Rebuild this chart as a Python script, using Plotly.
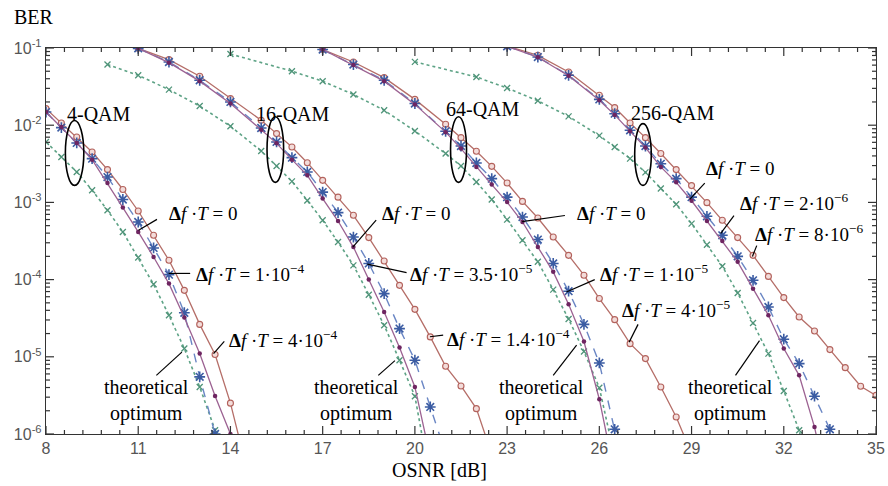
import plotly.graph_objects as go

# ---------------- measured BER curves ----------------
# 4-QAM
osnr_4 = [8.0, 8.5, 9.0, 9.5, 10.0, 10.5, 11.0, 11.5, 12.0, 12.5, 13.0, 13.5, 14.0, 14.5]
ber_4_big = [1.64e-2, 1.07e-2, 7.03e-3, 4.50e-3, 2.66e-3, 1.47e-3, 7.74e-4, 3.75e-4, 1.78e-4,
             7.26e-5, 2.63e-5, 1.07e-5, 2.51e-6, 4.0e-7]
ber_4_zero = [1.48e-2, 9.48e-3, 5.89e-3, 3.58e-3, 1.78e-3, 8.57e-4, 4.14e-4, 1.96e-4, 8.87e-5,
              3.22e-5, 1.10e-5, 3.10e-6, 1.0e-6, 2.0e-7]
osnr_4_mid = [8.0, 8.5, 9.0, 9.5, 10.0, 10.5, 11.0, 11.5, 12.0, 12.5, 13.0, 13.5, 14.0]
ber_4_mid = [1.48e-2, 9.31e-3, 5.89e-3, 3.69e-3, 2.13e-3, 1.09e-3, 5.57e-4, 2.57e-4, 1.16e-4,
             3.72e-5, 5.50e-6, 1.0e-6, 1.5e-7]
osnr_4_th = [8.0, 8.5, 9.0, 9.5, 10.0, 10.5, 11.0, 11.5, 12.0, 12.5, 13.0, 13.5, 14.0]
ber_4_th = [6.07e-3, 3.87e-3, 2.48e-3, 1.44e-3, 7.91e-4, 4.14e-4, 1.93e-4, 8.69e-5, 3.45e-5,
            1.28e-5, 4.07e-6, 1.12e-6, 1.5e-7]

# 16-QAM
osnr_16_big = [11, 12, 13, 14, 15, 15.5, 16, 16.5, 17, 17.5, 18, 18.5, 19, 19.5, 20, 20.5,
               21, 21.5, 22, 22.5]
ber_16_big = [9.9e-2, 7.06e-2, 4.30e-2, 2.21e-2, 1.16e-2, 7.78e-3, 5.22e-3, 3.27e-3, 1.93e-3,
              1.17e-3, 6.81e-4, 3.50e-4, 1.74e-4, 8.43e-5, 4.12e-5, 1.81e-5, 7.53e-6,
              4.19e-6, 2.13e-6, 5.5e-7]
osnr_16_mid = [11, 12, 13, 14, 15, 15.5, 16, 16.5, 17, 17.5, 18, 18.5, 19, 19.5, 20, 20.5, 21]
ber_16_mid = [9.9e-2, 6.59e-2, 3.82e-2, 2.0e-2, 9.20e-3, 6.07e-3, 3.80e-3, 2.48e-3, 1.36e-3,
              7.38e-4, 3.56e-4, 1.62e-4, 6.59e-5, 2.32e-5, 9.04e-6, 2.24e-6, 5.6e-7]
osnr_16_zero = [11, 12, 13, 14, 15, 15.5, 16, 16.5, 17, 17.5, 18, 18.5, 19, 19.5, 20, 20.5]
ber_16_zero = [9.9e-2, 6.46e-2, 3.72e-2, 1.91e-2, 8.71e-3, 5.82e-3, 3.58e-3, 2.24e-3, 1.12e-3,
               5.74e-4, 2.64e-4, 1.0e-4, 3.80e-5, 1.32e-5, 4.07e-6, 5.0e-7]
osnr_16_th = [10, 11, 12, 13, 14, 15, 15.5, 16, 16.5, 17, 17.5, 18, 18.5, 19, 19.5, 20, 20.5]
ber_16_th = [6.10e-2, 4.43e-2, 2.89e-2, 1.77e-2, 9.68e-3, 4.63e-3, 2.96e-3, 1.87e-3, 1.06e-3,
             5.86e-4, 3.07e-4, 1.53e-4, 6.38e-5, 2.56e-5, 9.02e-6, 3.09e-6, 2.5e-7]

# 64-QAM
osnr_64_big = [17, 18, 19, 20, 21, 21.5, 22, 22.5, 23, 23.5, 24, 24.5, 25, 25.5, 26, 26.5,
               27, 27.5, 28, 28.5, 29]
ber_64_big = [9.55e-2, 6.59e-2, 4.13e-2, 2.16e-2, 1.03e-2, 6.90e-3, 4.59e-3, 2.93e-3, 1.78e-3,
              1.03e-3, 6.28e-4, 3.56e-4, 2.06e-4, 1.14e-4, 5.68e-5, 3.03e-5, 1.48e-5,
              9.48e-6, 4.07e-6, 1.66e-6, 5.6e-7]
osnr_64_mid = [17, 18, 19, 20, 21, 21.5, 22, 22.5, 23, 23.5, 24, 24.5, 25, 25.5, 26, 26.5, 27]
ber_64_mid = [9.55e-2, 6.10e-2, 3.82e-2, 1.91e-2, 8.34e-3, 5.38e-3, 3.24e-3, 2.03e-3, 1.17e-3,
              6.46e-4, 3.30e-4, 1.62e-4, 7.08e-5, 2.63e-5, 8.32e-6, 1.15e-6, 1.5e-7]
osnr_64_zero = [17, 18, 19, 20, 21, 21.5, 22, 22.5, 23, 23.5, 24, 24.5, 25, 25.5, 26, 26.5]
ber_64_zero = [9.55e-2, 6.03e-2, 3.72e-2, 1.86e-2, 8.13e-3, 4.98e-3, 2.88e-3, 1.70e-3, 1.01e-3,
               5.57e-4, 2.64e-4, 1.26e-4, 4.79e-5, 1.58e-5, 2.82e-6, 3.0e-7]
osnr_64_th = [14, 16, 17, 18, 19, 20, 21, 21.5, 22, 22.5, 23, 23.5, 24, 24.5, 25, 25.5, 26, 26.5]
ber_64_th = [8.36e-2, 5.01e-2, 3.71e-2, 2.50e-2, 1.56e-2, 8.41e-3, 4.29e-3, 2.96e-3, 1.84e-3,
             1.09e-3, 5.98e-4, 3.24e-4, 1.70e-4, 7.41e-5, 3.09e-5, 1.17e-5, 3.98e-6, 5.0e-7]

# 256-QAM
osnr_256_big = [23, 24, 25, 26, 26.5, 27, 27.5, 28, 28.5, 29, 29.5, 30, 30.5, 31, 31.5, 32,
                32.5, 33, 33.5, 34, 34.5, 35]
ber_256_big = [1.06e-1, 8.04e-2, 4.89e-2, 2.44e-2, 1.69e-2, 1.07e-2, 6.90e-3, 4.29e-3, 2.66e-3,
               1.65e-3, 9.93e-4, 5.86e-4, 3.50e-4, 2.06e-4, 1.10e-4, 5.85e-5, 3.28e-5,
               2.16e-5, 1.24e-5, 7.24e-6, 4.15e-6, 3.16e-6]
osnr_256_mid = [23, 24, 25, 26, 26.5, 27, 27.5, 28, 28.5, 29, 29.5, 30, 30.5, 31, 31.5, 32,
                32.5, 33, 33.5, 34]
ber_256_mid = [1.05e-1, 7.64e-2, 4.43e-2, 2.16e-2, 1.41e-2, 8.59e-3, 5.37e-3, 3.16e-3, 2.03e-3,
               1.17e-3, 6.61e-4, 3.75e-4, 2.0e-4, 9.79e-5, 4.42e-5, 1.69e-5, 8.17e-6,
               3.09e-6, 1.15e-6, 1.5e-7]
osnr_256_zero = [23, 24, 25, 26, 26.5, 27, 27.5, 28, 28.5, 29, 29.5, 30, 30.5, 31, 31.5, 32,
                 32.5, 33, 33.5]
ber_256_zero = [1.05e-1, 7.59e-2, 4.37e-2, 2.11e-2, 1.36e-2, 8.32e-3, 5.13e-3, 2.88e-3, 1.82e-3,
                1.05e-3, 5.75e-4, 3.16e-4, 1.70e-4, 7.64e-5, 3.45e-5, 1.28e-5, 5.75e-6,
                1.23e-6, 1.5e-7]
osnr_256_th = [20, 22, 23, 24, 25, 26, 26.5, 27, 27.5, 28, 28.5, 29, 29.5, 30, 30.5, 31, 31.5,
               32, 32.5, 33]
ber_256_th = [6.61e-2, 4.22e-2, 3.03e-2, 2.07e-2, 1.30e-2, 7.33e-3, 5.22e-3, 3.69e-3, 2.45e-3,
              1.51e-3, 9.44e-4, 5.31e-4, 2.83e-4, 1.49e-4, 6.71e-5, 2.74e-5, 1.10e-5,
              3.61e-6, 1.12e-6, 1.5e-7]

# axis ticks
x_ticks = [8, 11, 14, 17, 20, 23, 26, 29, 32, 35]
x_minor_step = 0.6
y_ticks = [1e-6, 1e-5, 1e-4, 1e-3, 1e-2, 1e-1]
y_ticktext = ["10<sup>-6</sup>", "10<sup>-5</sup>", "10<sup>-4</sup>",
              "10<sup>-3</sup>", "10<sup>-2</sup>", "10<sup>-1</sup>"]

# ---------------- styles / layout geometry ----------------
RED = "#b3625c"
RED_LINE = "#b56e68"
PURPLE = "#6e2561"
PURPLE_LINE = "#9c6292"
BLUE = "#3b5ca3"
BLUE_LINE = "#6a86c4"
GREEN = "#4f9479"
GREEN_LINE = "#5ea386"
AXIS = "#333333"
SERIF = "Liberation Serif, Times New Roman, serif"
SANS = "Liberation Sans, Arial, sans-serif"

WIDTH, HEIGHT = 888, 486
MARGIN = dict(l=46, r=12, t=48, b=52)
X_RANGE = [8, 35]
Y_RANGE = [-6, -1]          # log10(BER)

fig = go.Figure()


def add_theory(x, y):
    fig.add_trace(go.Scatter(
        x=x, y=y, mode="lines+markers",
        line=dict(color=GREEN_LINE, width=1.6, dash="dot"),
        marker=dict(symbol="x-thin-open", size=6, color=GREEN,
                    line=dict(color=GREEN, width=1.3)),
        showlegend=False, hoverinfo="skip"))


def add_big(x, y):
    fig.add_trace(go.Scatter(
        x=x, y=y, mode="lines+markers",
        line=dict(color=RED_LINE, width=1.3),
        marker=dict(symbol="circle", size=6, color="#f3dcda",
                    line=dict(color=RED, width=1.1)),
        showlegend=False, hoverinfo="skip"))


def add_mid(x, y):
    fig.add_trace(go.Scatter(
        x=x, y=y, mode="lines+markers",
        line=dict(color=BLUE_LINE, width=1.4, dash="dash"),
        marker=dict(symbol="asterisk-open", size=9, color=BLUE,
                    line=dict(color=BLUE, width=1.6)),
        showlegend=False, hoverinfo="skip"))


def add_zero(x, y):
    fig.add_trace(go.Scatter(
        x=x, y=y, mode="lines+markers",
        line=dict(color=PURPLE_LINE, width=1.3),
        marker=dict(symbol="circle", size=4.5, color=PURPLE),
        showlegend=False, hoverinfo="skip"))


for xs, ys in [(osnr_4_th, ber_4_th), (osnr_16_th, ber_16_th),
               (osnr_64_th, ber_64_th), (osnr_256_th, ber_256_th)]:
    add_theory(xs, ys)
for xs, ys in [(osnr_4, ber_4_big), (osnr_16_big, ber_16_big),
               (osnr_64_big, ber_64_big), (osnr_256_big, ber_256_big)]:
    add_big(xs, ys)
for xs, ys in [(osnr_4_mid, ber_4_mid), (osnr_16_mid, ber_16_mid),
               (osnr_64_mid, ber_64_mid), (osnr_256_mid, ber_256_mid)]:
    add_mid(xs, ys)
for xs, ys in [(osnr_4, ber_4_zero), (osnr_16_zero, ber_16_zero),
               (osnr_64_zero, ber_64_zero), (osnr_256_zero, ber_256_zero)]:
    add_zero(xs, ys)

# ---------------- inward tick marks on all four sides of the frame ----------------
plot_w = WIDTH - MARGIN["l"] - MARGIN["r"]
plot_h = HEIGHT - MARGIN["t"] - MARGIN["b"]
dx_per_px = (X_RANGE[1] - X_RANGE[0]) / plot_w
dy_per_px = (Y_RANGE[1] - Y_RANGE[0]) / plot_h
MAJOR_LEN, MINOR_LEN = 8, 4

n_minor_x = int(round((x_ticks[-1] - x_ticks[0]) / x_minor_step))
x_minor = [x_ticks[0] + i * x_minor_step for i in range(1, n_minor_x) if i % 5 != 0]
y_minor = [d * tick for tick in y_ticks[:-1] for d in range(2, 10)]

tx, ty = [], []
for vals, length in [(x_ticks, MAJOR_LEN), (x_minor, MINOR_LEN)]:
    for v in vals:
        # bottom edge, pointing up
        tx += [v, v, None]
        ty += [10 ** Y_RANGE[0], 10 ** (Y_RANGE[0] + length * dy_per_px), None]
        # top edge, pointing down
        tx += [v, v, None]
        ty += [10 ** Y_RANGE[1], 10 ** (Y_RANGE[1] - length * dy_per_px), None]
for vals, length in [(y_ticks, MAJOR_LEN), (y_minor, MINOR_LEN)]:
    for v in vals:
        # left edge, pointing right
        tx += [X_RANGE[0], X_RANGE[0] + length * dx_per_px, None]
        ty += [v, v, None]
        # right edge, pointing left
        tx += [X_RANGE[1], X_RANGE[1] - length * dx_per_px, None]
        ty += [v, v, None]
fig.add_trace(go.Scatter(x=tx, y=ty, mode="lines", line=dict(color=AXIS, width=1.2),
                         showlegend=False, hoverinfo="skip"))

# ---------------- annotations ----------------
# text positions: x in dB, y in log10(BER); leader lines and ellipses use BER values


def leader(x0, ly0, x1, ly1):
    fig.add_shape(type="line", x0=x0, y0=10 ** ly0, x1=x1, y1=10 ** ly1,
                  xref="x", yref="y", line=dict(color="black", width=1.2))


DF = "<b>Δ</b><i>f</i> ·<i>T</i> = "
labels = [
    # text, x, log y, leader (x0, logy0, x1, logy1)
    (DF + "0", 11.94, -3.15, (11.01, -3.36, 11.61, -3.22)),
    (DF + "1·10<sup>−4</sup>", 12.80, -3.92, (11.99, -3.92, 12.69, -3.92)),
    (DF + "4·10<sup>−4</sup>", 13.89, -4.77, (13.45, -4.96, 13.80, -4.80)),
    (DF + "0", 18.87, -3.15, (17.98, -3.58, 18.74, -3.23)),
    (DF + "3.5·10<sup>−5</sup>", 19.79, -3.92, (18.45, -3.80, 19.73, -3.91)),
    (DF + "1.4·10<sup>−4</sup>", 20.98, -4.75, (20.49, -4.74, 20.92, -4.72)),
    (DF + "0", 25.20, -3.14, (23.49, -3.25, 24.88, -3.17)),
    (DF + "1·10<sup>−5</sup>", 25.96, -3.92, (24.93, -4.16, 25.85, -4.00)),
    (DF + "4·10<sup>−5</sup>", 26.66, -4.38, (26.97, -4.81, 27.26, -4.58)),
    (DF + "0", 29.39, -2.56, (28.94, -2.96, 29.43, -2.75)),
    (DF + "2·10<sup>−6</sup>", 30.51, -2.99, (29.95, -3.40, 30.38, -3.17)),
    (DF + "8·10<sup>−6</sup>", 31.00, -3.39, (30.98, -3.70, 31.12, -3.56)),
]
for text, x, y, seg in labels:
    fig.add_annotation(x=x, y=y, xref="x", yref="y", text=text, showarrow=False,
                       xanchor="left", yanchor="middle",
                       font=dict(family=SERIF, size=19, color="black"))
    leader(*seg)

theory_labels = [
    (11.27, (11.59, -5.24, 12.42, -4.94)),
    (18.11, (18.81, -5.24, 19.35, -5.05)),
    (24.12, (24.50, -5.24, 25.26, -4.85)),
    (30.27, (30.43, -5.24, 31.21, -4.79)),
]
for x, seg in theory_labels:
    fig.add_annotation(x=x, y=-5.57, xref="x", yref="y", text="theoretical<br>optimum",
                       showarrow=False, xanchor="center", yanchor="middle",
                       font=dict(family=SERIF, size=20, color="black"))
    leader(*seg)

formats = [
    ("4-QAM", 9.72, -1.85, (8.63, 9.23, -1.94, -2.78)),
    ("16-QAM", 16.02, -1.85, (15.19, 15.73, -1.89, -2.74)),
    ("64-QAM", 22.20, -1.79, (21.16, 21.68, -1.89, -2.74)),
    ("256-QAM", 28.40, -1.84, (27.15, 27.69, -1.98, -2.78)),
]
for text, x, y, (ex0, ex1, ey0, ey1) in formats:
    fig.add_annotation(x=x, y=y, xref="x", yref="y", text=text, showarrow=False,
                       xanchor="center", yanchor="middle",
                       font=dict(family=SERIF, size=20, color="black"))
    fig.add_shape(type="circle", x0=ex0, x1=ex1, y0=10 ** ey0, y1=10 ** ey1,
                  xref="x", yref="y", line=dict(color="black", width=1.6))

# axis titles
fig.add_annotation(x=-0.041, y=1.08, xref="paper", yref="paper", text="BER",
                   showarrow=False, xanchor="left", yanchor="middle",
                   font=dict(family=SERIF, size=20, color="black"))
fig.add_annotation(x=0.4735, y=-0.093, xref="paper", yref="paper", text="OSNR [dB]",
                   showarrow=False, xanchor="center", yanchor="middle",
                   font=dict(family=SERIF, size=20, color="black"))

# ---------------- axes ----------------
fig.update_xaxes(
    range=X_RANGE, tickmode="array", tickvals=x_ticks, ticktext=[str(v) for v in x_ticks],
    ticks="", showline=True, linecolor=AXIS, linewidth=1.4, mirror=True,
    showgrid=False, zeroline=False, automargin=False,
    tickfont=dict(family=SANS, size=16, color="#555"),
)
fig.update_yaxes(
    type="log", range=Y_RANGE, tickmode="array", tickvals=y_ticks, ticktext=y_ticktext,
    ticks="", showline=True, linecolor=AXIS, linewidth=1.4, mirror=True,
    showgrid=False, zeroline=False, automargin=False,
    tickfont=dict(family=SANS, size=16, color="#555"),
)

fig.update_layout(
    template="none",
    width=WIDTH, height=HEIGHT, autosize=False,
    margin=MARGIN,
    plot_bgcolor="white", paper_bgcolor="white",
    showlegend=False,
)

fig.write_html("out.html")
